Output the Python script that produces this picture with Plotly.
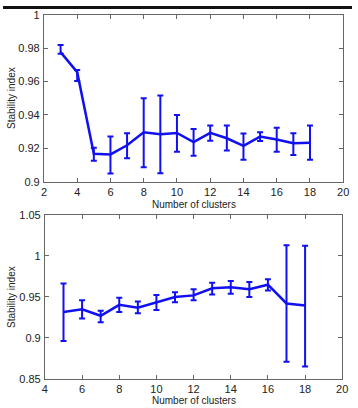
import plotly.graph_objects as go

# Top panel data
k_top = [3, 4, 5, 6, 7, 8, 9, 10, 11, 12, 13, 14, 15, 16, 17, 18]
mean_top = [0.9776, 0.9656, 0.9167, 0.9163, 0.9218, 0.9296, 0.9284, 0.9292, 0.9237, 0.9292, 0.9260, 0.9214, 0.9270, 0.9253, 0.9230, 0.9233]
upper_top = [0.9819, 0.9669, 0.9204, 0.9270, 0.9290, 0.9500, 0.9516, 0.9400, 0.9315, 0.9337, 0.9337, 0.9288, 0.9296, 0.9323, 0.9290, 0.9337]
lower_top = [0.9767, 0.9603, 0.9125, 0.9049, 0.9140, 0.9086, 0.9050, 0.9180, 0.9156, 0.9245, 0.9187, 0.9132, 0.9243, 0.9180, 0.9160, 0.9132]

# Bottom panel data
k_bot = [5, 6, 7, 8, 9, 10, 11, 12, 13, 14, 15, 16, 17, 18]
mean_bot = [0.9314, 0.9346, 0.9267, 0.9401, 0.9366, 0.9433, 0.9496, 0.9516, 0.9603, 0.9615, 0.9591, 0.9646, 0.9417, 0.9393]
upper_bot = [0.9662, 0.9457, 0.9330, 0.9488, 0.9441, 0.9520, 0.9555, 0.9591, 0.9670, 0.9690, 0.9678, 0.9713, 1.0128, 1.0120]
lower_bot = [0.8959, 0.9235, 0.9188, 0.9314, 0.9298, 0.9338, 0.9433, 0.9457, 0.9528, 0.9536, 0.9496, 0.9575, 0.8706, 0.8650]

top_xticks = [2, 4, 6, 8, 10, 12, 14, 16, 18, 20]
top_yticks = [0.9, 0.92, 0.94, 0.96, 0.98, 1.0]
top_ylabels = ["0.9", "0.92", "0.94", "0.96", "0.98", "1"]
bot_xticks = [4, 6, 8, 10, 12, 14, 16, 18, 20]
bot_yticks = [0.85, 0.9, 0.95, 1.0, 1.05]
bot_ylabels = ["0.85", "0.9", "0.95", "1", "1.05"]

BLUE = "#1010f0"
W, H = 358, 408

def err(mean, up, lo):
    return dict(type="data", symmetric=False,
                array=[u - m for u, m in zip(up, mean)],
                arrayminus=[m - l for m, l in zip(mean, lo)],
                color=BLUE, thickness=2, width=3)

fig = go.Figure()
fig.add_trace(go.Scatter(x=k_top, y=mean_top, mode="lines", line=dict(color=BLUE, width=2.5),
                         error_y=err(mean_top, upper_top, lower_top), xaxis="x", yaxis="y"))
fig.add_trace(go.Scatter(x=k_bot, y=mean_bot, mode="lines", line=dict(color=BLUE, width=2.5),
                         error_y=err(mean_bot, upper_bot, lower_bot), xaxis="x2", yaxis="y2"))

font = dict(family="Liberation Sans, Arial, sans-serif", size=11, color="#222")
axcommon = dict(showgrid=False, zeroline=False, showline=True, linecolor="#666", linewidth=1,
                mirror="ticks", ticks="inside", ticklen=4, tickcolor="#666", tickfont=font)

fig.update_layout(
    width=W, height=H, margin=dict(l=0, r=0, t=0, b=0),
    paper_bgcolor="white", plot_bgcolor="white", showlegend=False,
    xaxis=dict(domain=[42/W, 349/W], range=[2, 20], tickvals=top_xticks, anchor="y", **axcommon),
    yaxis=dict(domain=[1-181/H, 1-9/H], range=[0.9, 1.0], tickvals=top_yticks, ticktext=top_ylabels,
               anchor="x", ticklabelstandoff=1, **axcommon),
    xaxis2=dict(domain=[43/W, 348/W], range=[4, 20], tickvals=bot_xticks, anchor="y2", **axcommon),
    yaxis2=dict(domain=[1-384/H, 1-215/H], range=[0.85, 1.05], tickvals=bot_yticks, ticktext=bot_ylabels,
                anchor="x2", ticklabelstandoff=1, **axcommon),
)

tfont = dict(family="Liberation Sans, Arial, sans-serif", size=10, color="#222")
fig.add_annotation(text="Stability index", xref="paper", yref="paper", x=8/W, y=1-95/H,
                   xanchor="center", yanchor="middle",
                   textangle=-90, showarrow=False, font=tfont)
fig.add_annotation(text="Stability index", xref="paper", yref="paper", x=8/W, y=1-300/H,
                   xanchor="center", yanchor="middle",
                   textangle=-90, showarrow=False, font=tfont)
fig.add_annotation(text="Number of clusters", xref="paper", yref="paper", x=196/W, y=1-197/H,
                   xanchor="center", yanchor="top", showarrow=False, font=tfont)
fig.add_annotation(text="Number of clusters", xref="paper", yref="paper", x=196/W, y=1-399/H,
                   xanchor="center", yanchor="top", showarrow=False, font=tfont)
fig.add_shape(type="rect", xref="paper", yref="paper", x0=0, x1=1, y0=1-3/H, y1=1,
              fillcolor="#111", line=dict(width=0))

fig.write_html("out.html")
